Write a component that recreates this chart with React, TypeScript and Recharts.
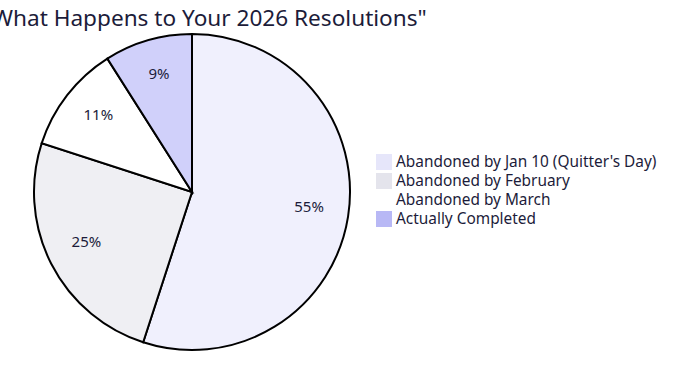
import React from "react";
import { PieChart, Pie, Cell, Legend } from "recharts";

const categories = [
  "Abandoned by Jan 10 (Quitter's Day)",
  "Abandoned by February",
  "Abandoned by March",
  "Actually Completed",
];
const values = [55, 25, 11, 9];
const sliceColors = ["#F0F0FD", "#EFEFF3", "#FFFFFF", "#D0D0FA"];
const swatchColors = ["#E6E6FA", "#E4E4EC", "#FFFFFF", "#B8B8F5"];
const title = "What Happens to Your 2026 Resolutions\"";

const data = categories.map((name, i) => ({ name, value: values[i] }));

const FONT = "'Noto Sans', sans-serif";
const TEXT = "#1c1c3a";

const RADIAN = Math.PI / 180;
const renderLabel = (props: any) => {
  const { cx, cy, midAngle, outerRadius, value } = props;
  const r = outerRadius * 0.75;
  const x = cx + r * Math.cos(-midAngle * RADIAN);
  const y = cy + r * Math.sin(-midAngle * RADIAN) - 5;
  return (
    <text
      x={x}
      y={y}
      fill={TEXT}
      fontSize={15}
      fontFamily={FONT}
      textAnchor="middle"
      dominantBaseline="central"
    >
      {`${value}%`}
    </text>
  );
};

const renderLegend = () => (
  <div style={{ fontFamily: FONT, fontSize: 15.4, color: TEXT }}>
    {categories.map((c, i) => (
      <div key={c} style={{ display: "flex", alignItems: "center", height: 19 }}>
        <span
          style={{
            display: "inline-block",
            width: 16,
            height: 16,
            background: swatchColors[i],
            marginRight: 4,
          }}
        />
        <span>{c}</span>
      </div>
    ))}
  </div>
);

export default function App() {
  return (
    <div style={{ position: "absolute", left: 0, top: 0, width: 700, height: 385, background: "#fff" }}>
      <PieChart width={700} height={385} margin={{ top: 0, right: 0, bottom: 0, left: 0 }}>
        <text x={-8} y={26} fontSize={22.6} fontFamily={FONT} fill={TEXT}>
          {title}
        </text>
        <Pie
          data={data}
          dataKey="value"
          nameKey="name"
          cx={192}
          cy={192}
          outerRadius={158}
          startAngle={90}
          endAngle={-270}
          stroke="#000"
          strokeWidth={2}
          label={renderLabel}
          labelLine={false}
          isAnimationActive={false}
        >
          {data.map((d, i) => (
            <Cell key={d.name} fill={sliceColors[i]} />
          ))}
        </Pie>
        <Legend
          content={renderLegend}
          wrapperStyle={{ position: "absolute", left: 376, top: 152, width: 320 }}
        />
      </PieChart>
    </div>
  );
}
